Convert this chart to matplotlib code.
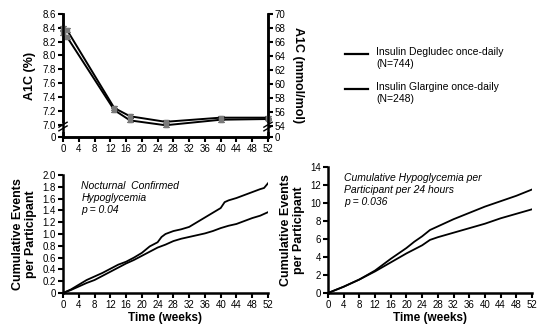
import matplotlib
matplotlib.use("Agg")
import matplotlib.pyplot as plt
import numpy as np

plt.rcParams['font.family'] = ['Liberation Sans', 'DejaVu Sans']

# ---- Data ----
a1c_weeks = [0, 1, 13, 17, 26, 40, 52]
a1c_degludec = [8.40, 8.37, 7.24, 7.12, 7.04, 7.10, 7.10]
a1c_glargine = [8.32, 8.27, 7.21, 7.06, 6.99, 7.07, 7.08]
a1c_err_deg = [0.03, 0.03, 0.03, 0.03, 0.03, 0.03, 0.02]
a1c_err_gla = [0.03, 0.03, 0.03, 0.03, 0.03, 0.03, 0.02]

left_ticks = [8.6, 8.4, 8.2, 8.0, 7.8, 7.6, 7.4, 7.2, 7.0]
right_ticks = [70, 68, 66, 64, 62, 60, 58, 56, 54]
week_ticks = list(range(0, 53, 4))

noct_weeks = [0, 2, 4, 6, 8, 10, 12, 14, 16, 18, 20, 22, 24, 25, 26, 28, 30, 32,
              34, 36, 38, 40, 41, 42, 44, 46, 48, 50, 51, 52]
noct_upper = [0, 0.06, 0.14, 0.22, 0.28, 0.34, 0.41, 0.48, 0.53, 0.60, 0.68, 0.79,
              0.86, 0.95, 1.00, 1.05, 1.08, 1.12, 1.20, 1.28, 1.36, 1.44, 1.54, 1.57,
              1.61, 1.66, 1.71, 1.76, 1.78, 1.86]
noct_lower_weeks = [0, 2, 4, 6, 8, 10, 12, 14, 16, 18, 20, 22, 24, 26, 28, 30, 32,
                    34, 36, 38, 40, 42, 44, 46, 48, 50, 52]
noct_lower = [0, 0.05, 0.11, 0.17, 0.22, 0.29, 0.36, 0.43, 0.50, 0.56, 0.63, 0.70,
              0.77, 0.82, 0.88, 0.92, 0.95, 0.98, 1.01, 1.05, 1.10, 1.14, 1.17, 1.22,
              1.27, 1.31, 1.37]

tot_weeks = [0, 4, 8, 12, 16, 20, 22, 24, 26, 28, 32, 36, 40, 44, 48, 52]
tot_upper = [0, 0.7, 1.5, 2.5, 3.8, 5.0, 5.7, 6.3, 7.0, 7.4, 8.2, 8.9, 9.6, 10.2, 10.8, 11.5]
tot_lower = [0, 0.7, 1.5, 2.4, 3.4, 4.4, 4.85, 5.3, 5.9, 6.2, 6.7, 7.2, 7.7, 8.3, 8.8, 9.3]

fig = plt.figure(figsize=(5.42, 3.29), dpi=100)

W, H = 542.0, 329.0
def rect(x0, y0, x1, y1):
    return [x0 / W, 1 - y1 / H, (x1 - x0) / W, (y1 - y0) / H]

tick_kw = dict(direction='out', length=3.5, width=1.5, labelsize=7, pad=1.5)
LAB = 9

def style(ax):
    for s in ['top', 'right']:
        ax.spines[s].set_visible(False)
    for s in ['left', 'bottom']:
        ax.spines[s].set_linewidth(1.8)
    ax.tick_params(**tick_kw)

# ---- Top panel ----
ax = fig.add_axes(rect(63, 14, 268, 137))
ymin = 6.82
ax.set_ylim(ymin, 8.6)
ax.set_xlim(0, 52)
ax.plot(a1c_weeks, a1c_degludec, color='black', lw=1.4, zorder=2)
ax.plot(a1c_weeks, a1c_glargine, color='black', lw=1.4, zorder=2)
ax.errorbar(a1c_weeks, a1c_degludec, yerr=a1c_err_deg, fmt='s', ms=3.5,
            mfc='#7a7a7a', mec='#7a7a7a', ecolor='black', elinewidth=0.8,
            capsize=2, capthick=0.8, zorder=3, clip_on=False)
ax.errorbar(a1c_weeks, a1c_glargine, yerr=a1c_err_gla, fmt='s', ms=3.5,
            mfc='#7a7a7a', mec='#7a7a7a', ecolor='black', elinewidth=0.8,
            capsize=2, capthick=0.8, zorder=3, clip_on=False)
ax.set_yticks(left_ticks + [ymin])
ax.set_yticklabels([f"{t:.1f}" for t in left_ticks] + ["0"])
ax.set_xticks(week_ticks)
ax.spines['top'].set_visible(False)
for s in ['left', 'right', 'bottom']:
    ax.spines[s].set_linewidth(1.8)
ax.tick_params(**tick_kw)
ax.set_ylabel("A1C (%)", fontsize=LAB, fontweight='bold', labelpad=5)

ax2 = ax.twinx()
rmin = 52.5
ax2.set_ylim(rmin, 70)
ax2.set_yticks(right_ticks + [rmin])
ax2.set_yticklabels([str(t) for t in right_ticks] + ["0"])
ax2.spines['top'].set_visible(False)
for s in ['left', 'right', 'bottom']:
    ax2.spines[s].set_linewidth(1.8)
ax2.tick_params(**tick_kw)
ax2.set_ylabel("A1C (mmol/mol)", fontsize=LAB, fontweight='bold', rotation=-90,
               labelpad=13)

# axis break marks
for xb in (0, 1):
    ax.plot([xb, xb], [0.055, 0.105], transform=ax.transAxes, color='white',
            lw=2.2, clip_on=False, zorder=4)
    for dy in (0.0, 0.03):
        ax.plot([xb - 0.02, xb + 0.02], [0.05 + dy, 0.09 + dy],
                transform=ax.transAxes, color='black', lw=1.0, clip_on=False, zorder=5)

# legend
fig.lines.append(plt.Line2D([345 / W, 368 / W], [1 - 54 / H, 1 - 54 / H],
                            color='black', lw=1.6, transform=fig.transFigure))
fig.lines.append(plt.Line2D([345 / W, 368 / W], [1 - 89 / H, 1 - 89 / H],
                            color='black', lw=1.6, transform=fig.transFigure))
fig.text(376 / W, 1 - 47 / H, "Insulin Degludec once-daily\n(N=744)", fontsize=7.5,
         va='top', ha='left', linespacing=1.3)
fig.text(376 / W, 1 - 82 / H, "Insulin Glargine once-daily\n(N=248)", fontsize=7.5,
         va='top', ha='left', linespacing=1.3)

# ---- Bottom-left ----
bl = fig.add_axes(rect(63, 175, 268, 293))
bl.plot(noct_weeks, noct_upper, color='black', lw=1.3)
bl.plot(noct_lower_weeks, noct_lower, color='black', lw=1.3)
bl.set_xlim(0, 52)
bl.set_ylim(0, 2.0)
bl.set_xticks(week_ticks)
bl.set_yticks(np.arange(0, 2.01, 0.2))
bl.set_yticklabels(["0"] + [f"{v:.1f}" for v in np.arange(0.2, 2.01, 0.2)])
style(bl)
bl.set_xlabel("Time (weeks)", fontsize=8.5, fontweight='bold', labelpad=1.5)
bl.set_ylabel("Cumulative Events\nper Participant", fontsize=LAB, fontweight='bold',
              labelpad=4, linespacing=1.1)
bl.text(0.09, 0.95, "Nocturnal  Confirmed\nHypoglycemia\np = 0.04", transform=bl.transAxes,
        fontsize=7.5, style='italic', va='top', ha='left', linespacing=1.25)

# ---- Bottom-right ----
br = fig.add_axes(rect(328, 167, 532, 293))
br.plot(tot_weeks, tot_upper, color='black', lw=1.3)
br.plot(tot_weeks, tot_lower, color='black', lw=1.3)
br.set_xlim(0, 52)
br.set_ylim(0, 14)
br.set_xticks(week_ticks)
br.set_yticks(range(0, 15, 2))
style(br)
br.set_xlabel("Time (weeks)", fontsize=8.5, fontweight='bold', labelpad=1.5)
br.set_ylabel("Cumulative Events\nper Participant", fontsize=LAB, fontweight='bold',
              labelpad=4, linespacing=1.1)
br.text(0.08, 0.95, "Cumulative Hypoglycemia per\nParticipant per 24 hours\np = 0.036",
        transform=br.transAxes, fontsize=7.5, style='italic', va='top', ha='left',
        linespacing=1.25)

fig.savefig("out.png", dpi=100)
